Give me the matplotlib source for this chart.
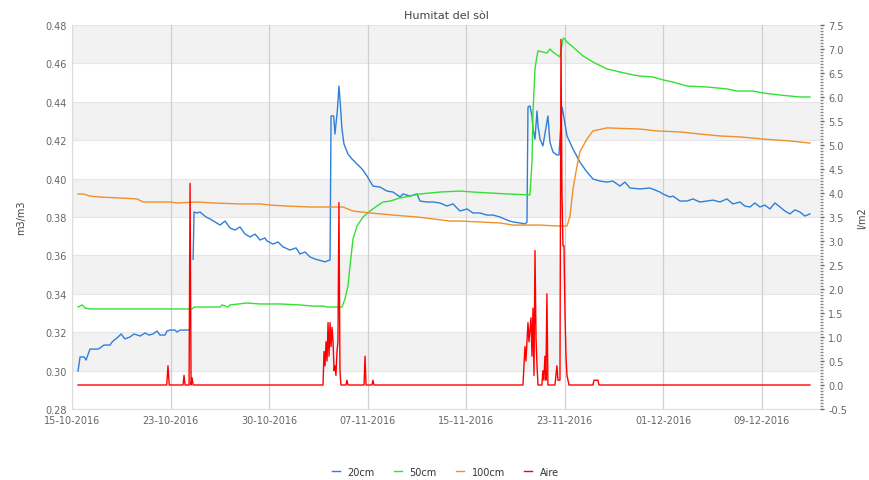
import numpy as np
import matplotlib.pyplot as plt
from matplotlib.ticker import MultipleLocator

# x = days since 15-10-2016
blue_x = [0.48, 0.64, 0.96, 1.12, 1.43, 2.07, 2.23, 2.55, 3.03, 3.19, 3.67, 3.91, 4.22, 4.62,
          4.94, 5.42, 5.82, 6.14, 6.46, 6.78, 7.01, 7.41, 7.57, 7.81, 8.21, 8.37, 8.61, 9.01,
          9.25, 9.41, 9.5,
          9.65, 9.73, 9.96, 10.20, 10.68, 11.00, 11.40, 11.80, 12.20, 12.59, 12.99, 13.39, 13.79,
          14.19, 14.59, 14.99, 15.38, 15.54, 16.02, 16.42, 16.82, 17.38, 17.86, 18.17, 18.57,
          18.97, 19.37, 19.93, 20.17, 20.33, 20.57, 20.65, 20.86, 20.96, 21.15, 21.28, 21.36,
          21.52, 21.68, 22.00, 22.32, 22.72, 23.12, 23.52, 23.99, 24.55, 25.11, 25.59, 26.15,
          26.39, 26.94, 27.50, 27.74, 28.30, 28.78, 29.33, 29.89, 30.37, 30.93, 31.49, 31.96,
          32.52, 33.08, 33.56, 34.12, 34.68, 35.15, 35.71, 36.11, 36.27, 36.35, 36.51, 36.67,
          36.75, 36.91, 37.07, 37.15, 37.31, 37.54, 37.94, 38.10, 38.34, 38.66, 38.82, 39.06,
          39.14, 39.46, 39.94, 40.49, 41.05, 41.53, 42.09, 42.65, 43.12, 43.68, 44.08, 44.48,
          45.28, 46.07, 46.87, 47.11, 47.67, 47.91, 48.47, 49.02, 49.50, 50.06, 50.62, 51.10,
          51.65, 52.21, 52.69, 53.25, 53.64, 54.05, 54.44, 54.84, 55.24, 55.64, 56.04, 56.44,
          56.84, 57.23, 57.63, 58.03, 58.43, 58.83]
blue_y = [0.2998, 0.3071, 0.3071, 0.3055, 0.3112, 0.3112, 0.3118, 0.3133, 0.3133, 0.3149,
          0.3175, 0.3191, 0.3165, 0.3175, 0.3191, 0.3180, 0.3196, 0.3185, 0.3191, 0.3206,
          0.3185, 0.3185, 0.3206, 0.3211, 0.3211, 0.3201, 0.3211, 0.3211, 0.3211, 0.3217, np.nan,
          0.3580, 0.3826, 0.3821, 0.3826, 0.3800, 0.3790, 0.3774, 0.3758, 0.3779, 0.3743,
          0.3732, 0.3748, 0.3711, 0.3696, 0.3711, 0.3680, 0.3691, 0.3675, 0.3659, 0.3670,
          0.3644, 0.3628, 0.3639, 0.3607, 0.3618, 0.3592, 0.3581, 0.3571, 0.3566, 0.3571,
          0.3576, 0.4326, 0.4326, 0.4232, 0.4352, 0.4482, 0.4415, 0.4258, 0.4180, 0.4128,
          0.4102, 0.4076, 0.4050, 0.4013, 0.3961, 0.3956, 0.3935, 0.3930, 0.3904, 0.3920,
          0.3909, 0.3920, 0.3883, 0.3878, 0.3878, 0.3873, 0.3857, 0.3868, 0.3831, 0.3842,
          0.3821, 0.3821, 0.3810, 0.3810, 0.3800, 0.3784, 0.3774, 0.3769, 0.3764, 0.3774,
          0.4373, 0.4378, 0.4326, 0.4258, 0.4206, 0.4352, 0.4274, 0.4206, 0.4170, 0.4326,
          0.4190, 0.4139, 0.4123, 0.4123, 0.4373, 0.4347, 0.4222, 0.4154, 0.4086, 0.4034,
          0.3998, 0.3987, 0.3982, 0.3987, 0.3961, 0.3982, 0.3951, 0.3946, 0.3951, 0.3930,
          0.3920, 0.3904, 0.3909, 0.3883, 0.3883, 0.3894, 0.3878, 0.3883, 0.3888,
          0.3878, 0.3894, 0.3868, 0.3878, 0.3857, 0.3852, 0.3873, 0.3852, 0.3862, 0.3842,
          0.3873, 0.3852, 0.3831, 0.3816, 0.3837, 0.3826, 0.3805, 0.3816]

green_x = [0.48, 0.80, 1.04, 1.43, 9.57, 9.73, 11.80, 11.96, 12.44, 12.59, 13.95, 14.99, 15.78,
           16.58, 18.17, 19.21, 20.01, 20.33, 21.52, 21.76, 22.00, 22.16, 22.40, 22.72, 23.20,
           23.75, 24.31, 24.79, 25.35, 26.15, 26.94, 27.74, 28.54, 29.33, 30.93, 31.96, 33.32,
           34.68, 36.51, 36.67, 36.75, 36.91, 37.07, 37.15, 37.54, 37.86, 38.10, 38.34, 38.90,
           39.14, 39.22, 39.46, 39.94, 40.73, 41.53, 42.65, 43.68, 44.72, 45.28, 46.31, 47.11,
           47.91, 49.02, 50.62, 52.21, 53.01, 54.28, 55.08, 56.44, 58.03, 58.83]
green_y = [0.3331, 0.3342, 0.3326, 0.3321, 0.3321, 0.3331, 0.3331, 0.3342, 0.3331, 0.3342,
           0.3352, 0.3347, 0.3347, 0.3347, 0.3342, 0.3336, 0.3336, 0.3331, 0.3331, 0.3373,
           0.3441, 0.3545, 0.3685, 0.3753, 0.3800, 0.3831, 0.3857, 0.3878, 0.3883, 0.3899,
           0.3909, 0.3920, 0.3925, 0.3930, 0.3935, 0.3930, 0.3925, 0.3920, 0.3915, 0.4086,
           0.4347, 0.4571, 0.4639, 0.4665, 0.4659, 0.4654, 0.4675, 0.4659, 0.4633, 0.4727,
           0.4732, 0.4711, 0.4685, 0.4639, 0.4607, 0.4571, 0.4555, 0.4540, 0.4534, 0.4529,
           0.4514, 0.4503, 0.4482, 0.4477, 0.4467, 0.4456, 0.4456, 0.4446, 0.4435, 0.4425,
           0.4425]

orange_x = [0.48, 0.88, 1.43, 2.23, 3.83, 5.18, 5.66, 7.81, 8.37, 9.96, 11.24, 13.39, 14.99,
            15.78, 17.14, 18.97, 21.60, 22.40, 23.75, 25.59, 27.50, 28.78, 30.13, 30.93, 32.52,
            34.12, 35.15, 37.31, 38.66, 39.46, 39.70, 39.94, 40.26, 40.49, 41.05, 41.53, 42.65,
            45.28, 46.63, 48.47, 50.06, 51.65, 53.25, 55.08, 57.23, 58.83]
orange_y = [0.3920, 0.3920, 0.3909, 0.3904, 0.3899, 0.3894, 0.3878, 0.3878, 0.3873, 0.3878,
            0.3873, 0.3868, 0.3868, 0.3862, 0.3857, 0.3852, 0.3852, 0.3831, 0.3821, 0.3810,
            0.3800, 0.3790, 0.3779, 0.3779, 0.3774, 0.3769, 0.3758, 0.3758, 0.3753, 0.3753,
            0.3805, 0.3946, 0.4066, 0.4139, 0.4206, 0.4248, 0.4264, 0.4258, 0.4248, 0.4243,
            0.4232, 0.4222, 0.4217, 0.4206, 0.4196, 0.4185]

# rain (l/m2), right axis
red_x = [0.48, 7.55, 7.65, 7.75, 8.85, 8.93, 9.01, 9.33, 9.41, 9.49, 9.57, 9.65,
         20.01, 20.09, 20.17, 20.25, 20.33, 20.41, 20.49, 20.57, 20.65, 20.73, 20.81, 20.89,
         20.96, 21.04, 21.12, 21.20, 21.28, 21.36, 21.44, 21.84, 21.92, 22.00, 23.28, 23.36,
         23.44, 23.91, 23.99, 24.07,
         35.95, 36.11, 36.19, 36.35, 36.43, 36.59, 36.67, 36.75, 36.83, 36.91, 36.99, 37.07,
         37.15, 37.46, 37.54, 37.62, 37.70, 37.78, 37.86, 37.94, 38.02, 38.50, 38.66, 38.74,
         38.90, 38.98, 39.06, 39.14, 39.22, 39.30, 39.38, 39.46, 39.54, 39.62,
         41.53, 41.61, 41.93, 42.01, 58.83]
red_y = [0, 0, 0.4, 0, 0, 0.2, 0, 0, 4.2, 0, 0.15, 0,
         0, 0.7, 0.4, 0.9, 0.5, 1.3, 0.6, 1.3, 0.8, 1.2, 0.9, 0.3,
         0.4, 0.2, 0.7, 0.9, 3.8, 0.3, 0, 0, 0.1, 0, 0, 0.6,
         0, 0, 0.1, 0,
         0, 0.8, 0.5, 1.3, 0.9, 1.4, 0.6, 1.6, 0.2, 2.8, 1.0, 0.4,
         0, 0, 0.3, 0.1, 0.6, 0.1, 1.9, 0, 0, 0, 0.4, 0.1,
         0.1, 7.2, 4.0, 2.9, 2.9, 1.5, 0.6, 0.2, 0.1, 0,
         0, 0.1, 0.1, 0, 0]

tick_labels = ['15-10-2016', '23-10-2016', '30-10-2016', '07-11-2016',
               '15-11-2016', '23-11-2016', '01-12-2016', '09-12-2016']

c_blue = '#2e7fd9'
c_green = '#33e033'
c_orange = '#f0902c'
c_red = '#ff0000'
tc = '#666666'

fig = plt.figure(figsize=(8.7, 4.81), dpi=100)
ax = fig.add_axes([0.0828, 0.1476, 0.8597, 0.7984])

# alternating bands
for lo in [0.30, 0.34, 0.38, 0.42, 0.46]:
    ax.axhspan(lo, lo + 0.02, color='#f2f2f2', zorder=0, lw=0)
for v in np.arange(0.28, 0.481, 0.02):
    ax.axhline(v, color='#e6e6e6', lw=0.8, zorder=0.5)

ticks = [55 * k / 7 for k in range(len(tick_labels))]
for t in ticks:
    ax.axvline(t, color='#d0d0d0', lw=0.9, zorder=0.6)

ax.plot(blue_x, blue_y, color=c_blue, lw=1, label='20cm', zorder=2)
ax.plot(green_x, green_y, color=c_green, lw=1, label='50cm', zorder=2)
ax.plot(orange_x, orange_y, color=c_orange, lw=1, label='100cm', zorder=2)

ax.set_xlim(0, 59.63)
ax.set_ylim(0.28, 0.48)
ax.set_yticks(np.arange(0.28, 0.481, 0.02))
ax.set_yticklabels(['%.2f' % v for v in np.arange(0.28, 0.481, 0.02)])
ax.set_xticks(ticks)
ax.set_xticklabels(tick_labels)
ax.tick_params(axis='both', length=0, labelsize=7, colors=tc, pad=4)
for s in ['top', 'right']:
    ax.spines[s].set_visible(False)
ax.spines['left'].set_color('#dddddd')
ax.spines['bottom'].set_color('#dddddd')

ax2 = ax.twinx()
ax2.plot(red_x, red_y, color=c_red, lw=1, label='Aire', zorder=3)
ax2.set_ylim(-0.5, 7.5)
ax2.set_yticks(np.arange(-0.5, 7.51, 0.5))
ax2.set_yticklabels(['%.1f' % v for v in np.arange(-0.5, 7.51, 0.5)])
ax2.yaxis.set_minor_locator(MultipleLocator(0.0625))
ax2.tick_params(axis='y', which='major', length=3, width=1, colors=tc, labelsize=7, pad=3)
ax2.tick_params(axis='y', which='minor', length=2, width=1, color='#888888')
for s in ['top', 'right', 'left', 'bottom']:
    ax2.spines[s].set_visible(False)

fig.text(0.513, 0.967, 'Humitat del sòl', ha='center', va='center', fontsize=8, color='#444444')
fig.text(0.024, 0.547, 'm3/m3', rotation=90, ha='center', va='center', fontsize=7, color='#444444')
fig.text(0.991, 0.547, 'l/m2', rotation=90, ha='center', va='center', fontsize=7, color='#444444')

h1, l1 = ax.get_legend_handles_labels()
h2, l2 = ax2.get_legend_handles_labels()
fig.legend(h1 + h2, l1 + l2, loc='center', bbox_to_anchor=(0.512, 0.017), ncol=4,
           frameon=False, fontsize=7, handlelength=0.8, columnspacing=2.0, handletextpad=0.8,
           labelcolor='#333333')

fig.savefig('out.png', dpi=100)
